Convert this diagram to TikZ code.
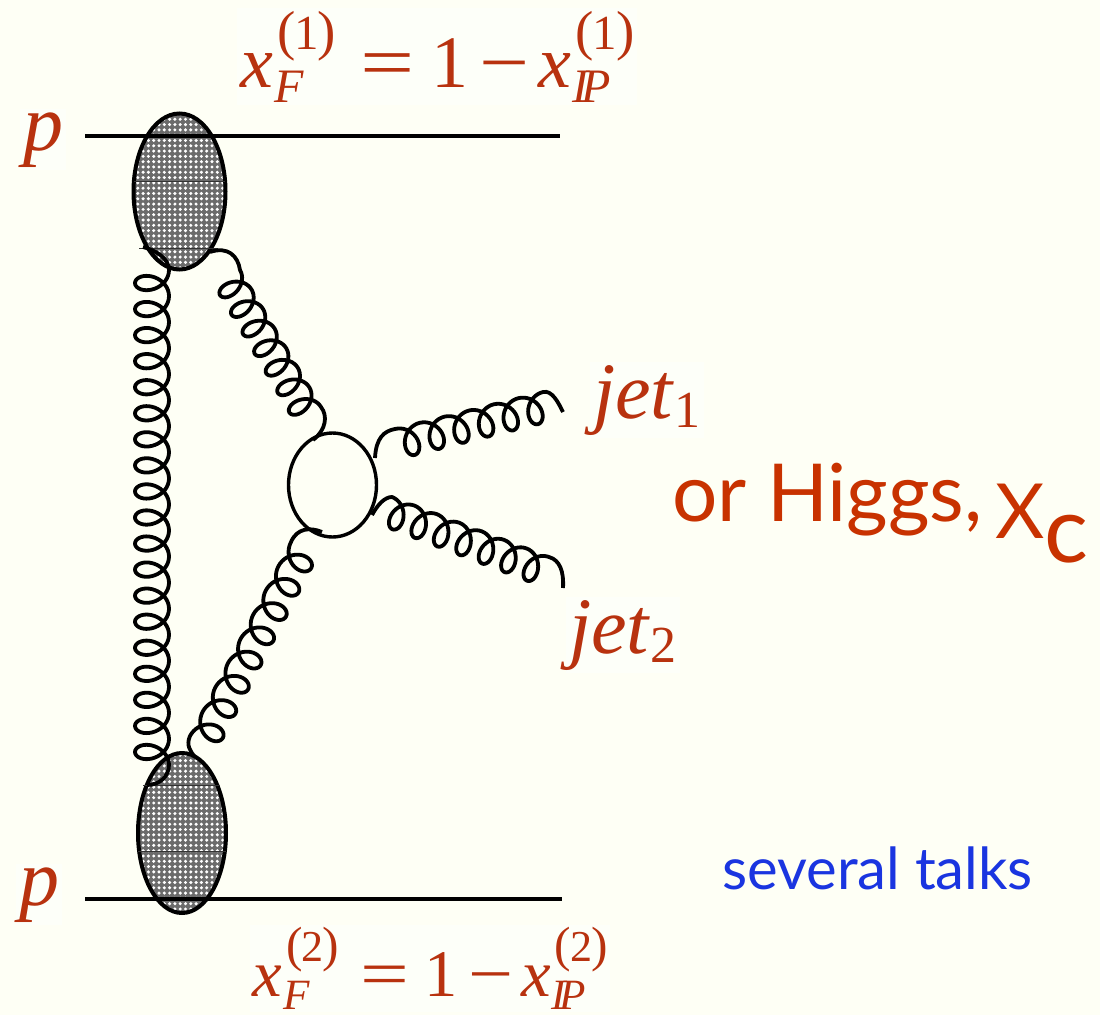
\documentclass[tikz,border=0pt]{standalone}
\usepackage{fontspec}
\setmainfont{Liberation Serif}
\newfontfamily\talkfont{Lato}
\usetikzlibrary{shapes.geometric,patterns.meta}
\definecolor{slidebg}{HTML}{FEFFF5}
\definecolor{labelbg}{HTML}{FDFFF9}
\definecolor{labelred}{HTML}{B8320F}
\definecolor{higgsred}{HTML}{C83200}
\definecolor{talkblue}{HTML}{1A35E0}
\newcommand{\xvar}[2]{\textit{x}\kern4pt\rlap{\raisebox{-15pt}{\kern-3pt\fontsize{48}{48}\selectfont\textit{#1}}}%
  \raisebox{38pt}{\fontsize{55}{55}\selectfont(\kern-1pt\fontsize{49}{49}\selectfont#2\kern-1pt\fontsize{55}{55}\selectfont)}}
\newcommand{\xlabel}[1]{\xvar{F}{#1}\kern24pt\scalebox{1.3}[1]{=}\kern17pt1\kern11pt\scalebox{1.2}[1]{−}\kern9pt\xvar{I\kern-7pt P}{#1}}
% start and end of the coil, number of loops, side of the lobes
\newcommand{\setgluon}[4]{%
  \pgfpointanchor{#1}{center}\pgfgetlastxy{\gsx}{\gsy}%
  \pgfpointanchor{#2}{center}\pgfgetlastxy{\gex}{\gey}%
  \pgfmathsetmacro{\gsx}{\gsx}\pgfmathsetmacro{\gsy}{-\gsy}%
  \pgfmathsetmacro{\gex}{\gex}\pgfmathsetmacro{\gey}{-\gey}%
  \pgfmathsetmacro{\gdx}{(\gex-\gsx)/#3}\pgfmathsetmacro{\gdy}{(\gey-\gsy)/#3}%
  \pgfmathsetmacro{\glen}{veclen(\gdx,\gdy)}%
  \pgfmathsetmacro{\gux}{\gdx/\glen}\pgfmathsetmacro{\guy}{\gdy/\glen}%
  \pgfmathsetmacro{\gend}{360*#3}\pgfmathtruncatemacro{\gsam}{36*#3+1}%
  \def\gside{#4}}
\newcommand{\gluonplot}{-- plot[domain=0:\gend, samples=\gsam, variable=\t]
  ({\gsx+\gdx*(\t/360)+0.5*\gdx*sin(\t)-\gside*\guy*\gamp*(1-cos(\t))},
   {\gsy+\gdy*(\t/360)+0.5*\gdy*sin(\t)+\gside*\gux*\gamp*(1-cos(\t))})}
\def\gamp{16}
\tikzset{
  red label/.style={text=labelred, fill=labelbg, inner sep=3pt, font=\fontsize{74}{74}\selectfont},
  jet label/.style={red label, font=\fontsize{80}{80}\selectfont},
  blob/.style={draw, ellipse, line width=4pt, inner sep=0pt,
    preaction={fill=black!58}, pattern={Dots[radius=1.7pt, distance=5.3pt]}, pattern color=white},
  proton/.style={line width=3.7pt},
  seam/.style={line width=0.8pt, black!80},
  gluon/.style={line width=3.8pt},
}
\begin{document}
\begin{tikzpicture}[x=1pt, y=-1pt]
  \useasboundingbox[fill=slidebg] (0,0) rectangle (1100,1015);

  % blobs and the small loop
  \node[blob, minimum width=92pt, minimum height=156pt] (blobtop) at (179.5,191.5) {};
  \node[blob, minimum width=88pt, minimum height=160pt] (blobbot) at (182,833) {};
  \node[draw, ellipse, line width=3.4pt, minimum width=88pt, minimum height=104pt, inner sep=0pt] (loop) at (332.5,485) {};
  \draw[seam] (134,181) coordinate (st1) -- (225,181);
  \draw[seam] (139,248) coordinate (st2) -- (218,248);
  \draw[seam] (143,785) coordinate (sb1) -- (220,785);
  \draw[seam] (138,851) coordinate (sb2) -- (226,851);

  % proton lines
  \coordinate (ptl) at (85,136);
  \coordinate (ptr) at (560,136);
  \coordinate (pbl) at (85,899);
  \coordinate (pbr) at (562,899);
  \draw[proton] (ptl) -- (ptr);
  \draw[proton] (pbl) -- (pbr);

  % gluons
  \coordinate (gla) at (143,247);
  \coordinate (gls) at (169,270);
  \coordinate (gle) at (169,765);
  \coordinate (glb) at (147,785);
  \setgluon{gls}{gle}{19}{1}
  \def\gamp{17}
  \draw[gluon] (gla) .. controls (155,250) and (169,258) .. (gls) \gluonplot
    .. controls (169,776) and (160,785) .. (glb);

  \coordinate (gta) at (210,252);
  \coordinate (gts) at (240,270);
  \coordinate (gte) at (321,407);
  \coordinate (gtb) at (313,440);
  \setgluon{gts}{gte}{7}{1}
  \def\gamp{15}
  \draw[gluon] (gta) .. controls (228,246) and (238,256) .. (gts) \gluonplot
    .. controls (328,416) and (326,430) .. (gtb);

  \coordinate (gba) at (322,532);
  \coordinate (gbs) at (291,542);
  \coordinate (gbe) at (190,736);
  \coordinate (gbb) at (195,757);
  \setgluon{gbs}{gbe}{8}{-1}
  \draw[gluon] (gba) .. controls (310,527) and (297,528) .. (gbs) \gluonplot
    .. controls (186,745) and (190,751) .. (gbb);

  \coordinate (gja) at (375,458);
  \coordinate (gjs) at (395,429);
  \coordinate (gje) at (543,392);
  \coordinate (gjb) at (563,412);
  \setgluon{gjs}{gje}{6}{1}
  \draw[gluon] (gja) .. controls (376,438) and (384,431) .. (gjs) \gluonplot
    .. controls (552,390) and (558,402) .. (gjb);

  \coordinate (gka) at (372,515);
  \coordinate (gks) at (392,497);
  \coordinate (gke) at (549,557);
  \coordinate (gkb) at (563,588);
  \setgluon{gks}{gke}{7}{1}
  \draw[gluon] (gka) .. controls (378,504) and (385,497) .. (gks) \gluonplot
    .. controls (560,560) and (564,572) .. (gkb);

  % labels
  \node[red label, anchor=base west] (ptop) at (20,150) {\fontsize{80}{80}\selectfont\textit{p}};
  \node[red label, anchor=base west] (pbot) at (16,905) {\fontsize{80}{80}\selectfont\textit{p}};
  \node[red label, anchor=base west] (xtop) at (237,87) {\xlabel{1}};
  \node[red label, anchor=base west, scale=0.9] (xbot) at (250,996) {\xlabel{2}};
  \node[jet label, anchor=base west] (jeta) at (590,418) {\textit{jet}\raisebox{-9pt}{\fontsize{52}{52}\selectfont 1}};
  \node[jet label, anchor=base west] (jetb) at (566,653) {\textit{jet}\raisebox{-9pt}{\fontsize{52}{52}\selectfont 2}};
  \node[anchor=base west, inner sep=0pt, text=higgsred, font=\talkfont\fontsize{80}{80}\selectfont] (higgs) at (672,521) {or Higgs,};
  \node[anchor=base west, inner sep=0pt, text=higgsred, font=\talkfont\fontsize{76}{76}\selectfont] (chic) at (995,538) {X\raisebox{-24pt}{\fontsize{92}{92}\selectfont c}};
  \node[anchor=base west, inner sep=0pt, text=talkblue, font=\talkfont\fontsize{58}{58}\selectfont] (talks) at (722,889) {several talks};
\end{tikzpicture}
\end{document}
